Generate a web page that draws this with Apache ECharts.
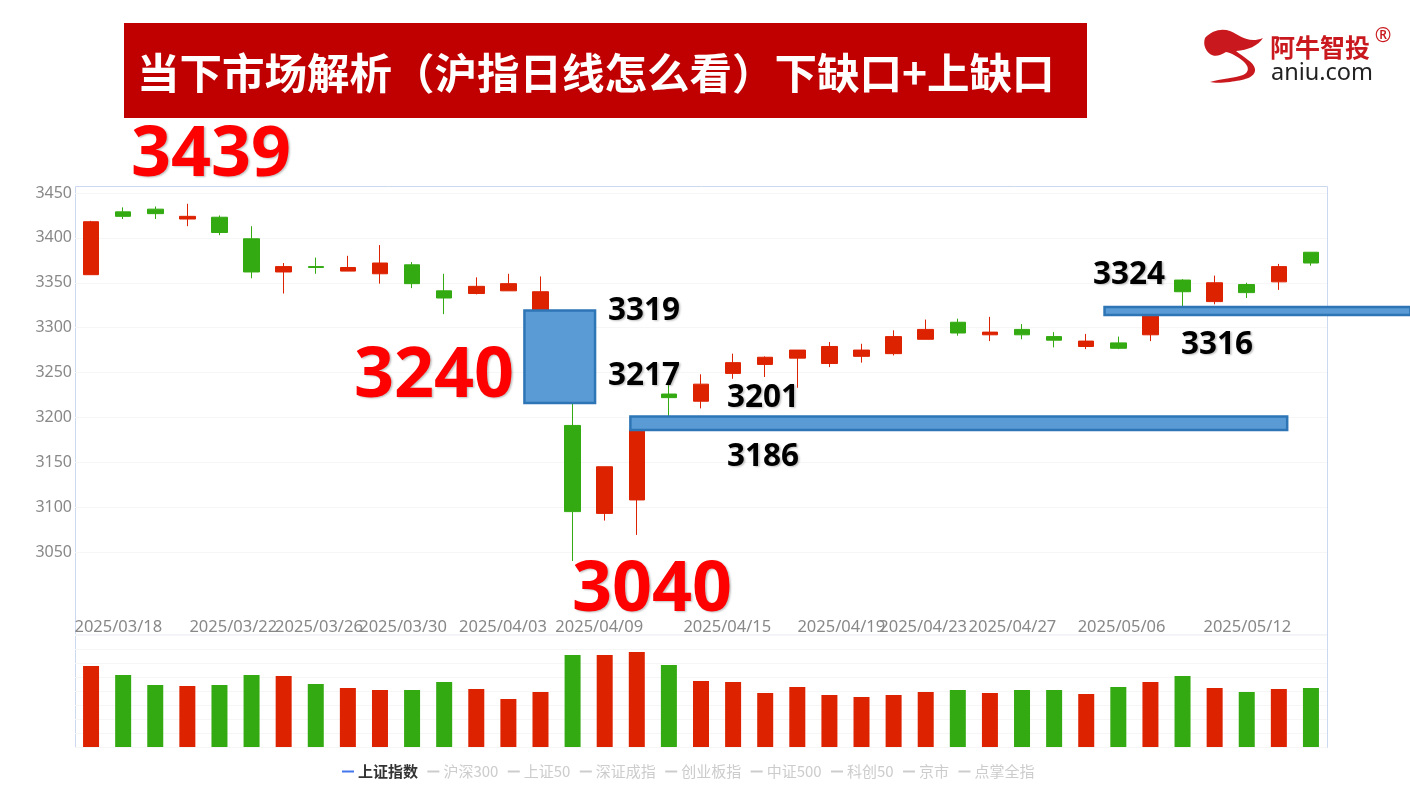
<!DOCTYPE html>
<html>
<head>
<meta charset="utf-8">
<title>沪指日线</title>
<script src="https://cdn.jsdelivr.net/npm/echarts@6/dist/echarts.min.js"></script>
<style>
  html, body { margin: 0; padding: 0; background: #fff; }
  #main { width: 1410px; height: 800px; }
</style>
</head>
<body>
<div id="main"></div>
<script>
// one entry per trading day
const opens  = [3359,3429,3432,3421,3423,3399,3362,3368,3363,3360,3370,3341,3338,3341,3319,3191,3093,3108,3226,3218,3249,3259,3266,3260,3268,3271,3287,3306,3292,3298,3290,3279,3283,3292,3353,3329,3348,3351,3384]
const closes = [3418,3424,3427,3424,3406,3362,3368,3367,3367,3372,3349,3333,3346,3349,3340,3095,3145,3186,3222,3237,3261,3267,3275,3279,3275,3290,3298,3294,3295,3292,3286,3285,3277,3316,3340,3350,3339,3368,3372]
const lows   = [3359,3421,3421,3413,3403,3355,3338,3360,3363,3349,3344,3315,3337,3341,3319,3040,3085,3069,3201,3210,3243,3245,3233,3256,3261,3269,3287,3291,3285,3287,3278,3276,3276,3285,3324,3326,3333,3342,3369]
const highs  = [3419,3434,3435,3438,3425,3413,3372,3378,3380,3392,3373,3360,3356,3360,3357,3217,3145,3190,3236,3248,3271,3268,3275,3284,3282,3297,3309,3310,3312,3304,3295,3293,3290,3316,3354,3358,3350,3371,3384]
const volumes = [81,72,62,61,62,72,71,63,59,57,57,65,58,48,55,92,92,95,82,66,65,54,60,52,50,52,55,57,54,57,57,53,60,65,71,59,55,58,59]

const yTicks = { min: 3050, max: 3450, step: 50 }

// date labels do not sit on candle centres in the picture, so they go on a value axis
const dateLabels = ['2025/03/18','2025/03/22','2025/03/26','2025/03/30','2025/04/03','2025/04/09','2025/04/15','2025/04/19','2025/04/23','2025/04/27','2025/05/06','2025/05/12']
const datePositions = [1.35,4.93,7.6,10.22,13.33,16.33,20.32,23.87,26.42,29.2,32.6,36.52]

const legendNames = ['上证指数','沪深300','上证50','深证成指','创业板指','中证500','科创50','京市','点掌全指']

// gap boxes: top and bottom price, start and end in candle units
const gapTops = [3319,3201,3323]
const gapBottoms = [3216,3186,3314]
const gapStarts = [14.0,17.3,32.07]
const gapEnds = [16.2,37.76,41.6]

const RED = '#dd2200'
const GREEN = '#33aa11'
const BIG_FONT = 'bold 70px "Open Sans"'
const MID_FONT = 'bold 31.5px "Open Sans"'

const days = opens.map((_, i) => i)
const candles = opens.map((o, i) => [o, closes[i], lows[i], highs[i]])
const gaps = gapTops.map((t, i) => [gapStarts[i], t, gapEnds[i], gapBottoms[i]])

echarts.graphic.registerShape('logoSwoosh', echarts.graphic.extendPath('M1205 38 C1212 30 1222 28 1230 31 C1240 35 1248 44 1263 38 C1258 46 1248 50 1236 51 C1243 57 1254 62 1255 69 C1256 78 1243 80 1230 82 C1222 83 1214 83 1210 82 C1220 79 1235 78 1243 75 C1250 72 1249 66 1243 61 C1238 57 1232 53 1226 52 C1220 56 1214 57 1210 54 C1205 50 1203 44 1205 38 Z'))

function gapBox(params, api) {
  const a = api.coord([api.value(0), api.value(1)])
  const b = api.coord([api.value(2), api.value(3)])
  return {
    type: 'rect',
    shape: { x: a[0], y: a[1], width: b[0] - a[0], height: b[1] - a[1] },
    style: { fill: '#5b9bd5', stroke: '#2e75b6', lineWidth: 2.5 }
  }
}

function note(text, x, y, font, fill) {
  return {
    type: 'text', x: x, y: y, z: 100,
    style: {
      text: text, font: font, fill: fill, textVerticalAlign: 'middle',
      textShadowColor: 'rgba(0,0,0,0.25)', textShadowBlur: 2, textShadowOffsetX: 1.5, textShadowOffsetY: 1.5
    }
  }
}

const chart = echarts.init(document.getElementById('main'), null, { width: 1410, height: 800 })

chart.setOption({
  animation: false,
  backgroundColor: '#fff',
  grid: [
    { left: 75, width: 1252, top: 193, height: 359 },
    { left: 75, width: 1252, top: 635, height: 112 }
  ],
  xAxis: [
    { type: 'category', gridIndex: 0, data: days, axisLine: { show: false }, axisTick: { show: false }, axisLabel: { show: false } },
    { type: 'category', gridIndex: 1, data: days, axisLine: { show: false }, axisTick: { show: false }, axisLabel: { show: false } },
    { type: 'value', gridIndex: 0, min: 0, max: 39, show: false },
    {
      type: 'value', gridIndex: 1, min: 0, max: 39, position: 'top',
      axisLine: { show: false }, axisTick: { show: false }, splitLine: { show: false },
      axisLabel: {
        customValues: datePositions,
        formatter: v => dateLabels[datePositions.indexOf(v)],
        color: '#888', fontFamily: 'Noto Sans', fontSize: 16.5, lineHeight: 16, margin: 0, hideOverlap: false
      }
    }
  ],
  yAxis: [
    {
      type: 'value', gridIndex: 0, min: yTicks.min, max: yTicks.max, interval: yTicks.step,
      axisLine: { show: false }, axisTick: { show: false },
      axisLabel: { formatter: v => String(v), color: '#888', fontFamily: 'Noto Sans', fontSize: 16, margin: 3 },
      splitLine: { lineStyle: { color: '#f6f6f6' } }
    },
    {
      type: 'value', gridIndex: 1, min: 0, max: 112, interval: 14,
      axisLine: { show: false }, axisTick: { show: false }, axisLabel: { show: false },
      splitLine: { lineStyle: { color: '#f6f6f6' } }
    }
  ],
  legend: {
    left: 337, top: 759, itemWidth: 12, itemHeight: 2, itemGap: 9.4,
    icon: 'rect', inactiveColor: '#ccc',
    textStyle: { fontFamily: 'Noto Sans CJK SC', fontSize: 15, color: '#333', padding: [0, 0, 0, -1] },
    selected: Object.fromEntries(legendNames.map((n, i) => [n, i === 0])),
    data: legendNames.map((n, i) => i === 0 ? { name: n, textStyle: { fontWeight: 'bold' } } : { name: n })
  },
  series: [
    {
      type: 'candlestick', xAxisIndex: 0, yAxisIndex: 0, barWidth: 16, data: candles, clip: false,
      itemStyle: { color: RED, color0: GREEN, borderColor: RED, borderColor0: GREEN, borderWidth: 1 }, z: 3
    },
    {
      type: 'bar', xAxisIndex: 1, yAxisIndex: 1, barWidth: 16,
      data: volumes.map((v, i) => ({ value: v, itemStyle: { color: closes[i] > opens[i] ? RED : GREEN } }))
    },
    {
      type: 'custom', xAxisIndex: 2, yAxisIndex: 0, renderItem: gapBox, data: gaps,
      encode: { x: [0, 2], y: [1, 3] }, clip: false, silent: true, z: 10
    }
  ].concat(legendNames.map(n => ({ name: n, type: 'line', data: [], itemStyle: { color: '#4477ee' } }))),
  graphic: [
    // outer frame
    { type: 'rect', z: -1, shape: { x: 75.5, y: 186.5, width: 1252, height: 561 }, style: { fill: 'none', stroke: '#cbd8ef', lineWidth: 1 } },
    { type: 'line', z: -1, shape: { x1: 75, y1: 635, x2: 1327, y2: 635 }, style: { stroke: '#f0f3f8', lineWidth: 2 } },
    // title banner
    { type: 'rect', z: 90, shape: { x: 124, y: 23, width: 963, height: 95 }, style: { fill: '#c00000' } },
    { type: 'text', z: 91, x: 137, y: 73, style: { text: '当下市场解析（沪指日线怎么看）下缺口+上缺口', font: 'bold 42.5px "Noto Sans CJK SC"', fill: '#fff', textVerticalAlign: 'middle' } },
    // logo
    { type: 'logoSwoosh', z: 90, shape: {}, style: { fill: '#c9191e' } },
    { type: 'text', z: 90, x: 1270, y: 47, style: { text: '阿牛智投', font: 'bold 25px "Noto Sans CJK SC"', fill: '#c9191e', textVerticalAlign: 'middle' } },
    { type: 'text', z: 90, x: 1271, y: 73, style: { text: 'aniu.com', font: '23.5px "Noto Sans"', fill: '#222', textVerticalAlign: 'middle' } },
    { type: 'text', z: 90, x: 1383, y: 36, style: { text: '®', font: '20px "Noto Sans"', fill: '#c9191e', textAlign: 'center', textVerticalAlign: 'middle' } },
    // price notes
    note('3439', 131, 156, BIG_FONT, '#ff0000'),
    note('3240', 354, 377, BIG_FONT, '#ff0000'),
    note('3040', 572, 591, BIG_FONT, '#ff0000'),
    note('3319', 608, 311, MID_FONT, '#000'),
    note('3217', 608, 376, MID_FONT, '#000'),
    note('3201', 727, 398, MID_FONT, '#000'),
    note('3186', 727, 457, MID_FONT, '#000'),
    note('3324', 1093, 275, MID_FONT, '#000'),
    note('3316', 1181, 345, MID_FONT, '#000')
  ]
})
</script>
</body>
</html>
